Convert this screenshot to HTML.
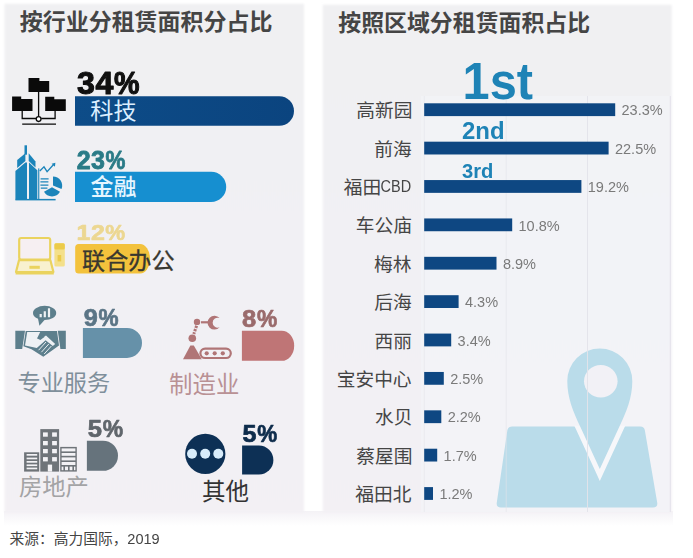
<!DOCTYPE html>
<html lang="zh"><head><meta charset="utf-8"><title>租赁面积占比</title>
<style>
html,body{margin:0;padding:0;background:#fff}
body{width:693px;height:558px;position:relative;overflow:hidden;font-family:"Liberation Sans",sans-serif}
svg{position:absolute;left:0;top:0;display:block}
svg text{font-family:"Liberation Sans","Noto Sans CJK SC",sans-serif}
.h{position:absolute;white-space:nowrap;line-height:1;color:transparent;font-family:"Liberation Sans","Noto Sans CJK SC",sans-serif}
</style></head><body>
<svg width="693" height="558" viewBox="0 0 693 558">
<defs><filter id="soft" x="-5%" y="-5%" width="110%" height="110%"><feGaussianBlur stdDeviation="0.8"/></filter>
</defs>
<defs><linearGradient id="fade" x1="0" x2="0" y1="0" y2="1"><stop offset="0" stop-color="#f4f2f6"/><stop offset="1" stop-color="#ffffff"/></linearGradient></defs>
<defs><linearGradient id="pg" x1="0" x2="0" y1="0" y2="1"><stop offset="0" stop-color="#f0f0f2"/><stop offset="0.45" stop-color="#f1f0f4"/><stop offset="1" stop-color="#f3f0f4"/></linearGradient></defs>
<rect x="4" y="511" width="669" height="15" fill="url(#fade)"/>
<rect x="4.5" y="3.8" width="299.5" height="508.7" fill="url(#pg)" filter="url(#soft)"/>
<rect x="322.8" y="4.8" width="349" height="507.5" fill="url(#pg)" filter="url(#soft)"/>
<rect x="421" y="96" width="249.5" height="416" fill="#f4f5f8" opacity=".6"/>
<text x="19.72" y="29.98" font-size="22.98" font-weight="700" fill="#454545" textLength="252.78" lengthAdjust="spacingAndGlyphs">按行业分租赁面积分占比</text>
<defs><linearGradient id="b1" x1="0" x2="1" y1="0" y2="0"><stop offset="0" stop-color="#0d4c88"/><stop offset="1" stop-color="#0b447f"/></linearGradient></defs>
<path d="M75.00 96.30H279.25A14.75 14.75 0 0 1 279.25 125.80H75.00Z" fill="url(#b1)"/>
<text x="90.35" y="119.32" font-size="23.08" fill="#dcefff" textLength="46.16" lengthAdjust="spacingAndGlyphs">科技</text>
<g fill="#0a0a0a" stroke="none">
<path d="M28.5 78.1H39.4V80.9H49.2V92.1H28.5Z"/>
<path d="M12.1 96.5H21.2V99H32.5V111H12.1Z"/>
<path d="M45.2 96.7H54.3V99.2H65.8V111H45.2Z"/>
</g>
<g fill="none" stroke="#0a0a0a" stroke-width="1.3">
<path d="M38.6 92V116.6M22.2 111V118.5H36M41.2 118.5H55.1V111M22.2 124.2H56"/>
<circle cx="38.6" cy="119.1" r="2.4" fill="#fff"/>
</g>
<path d="M75.00 171.80H211.10A15.10 15.10 0 0 1 211.10 202.00H75.00Z" fill="#168fd0"/>
<text x="90.40" y="194.51" font-size="23.02" font-weight="500" fill="#e6f6ff" textLength="46.04" lengthAdjust="spacingAndGlyphs">金融</text>
<g fill="#1b84ba">
<rect x="24.5" y="145.3" width="2.5" height="9.4"/>
<path d="M17.2 160L25.4 153.3V161L17.2 167.9Z"/>
<path d="M28.7 153.3L35.5 161.6V167.6L28.7 160.9Z"/>
<path d="M15.4 170.9L25.4 162.6H27V199.4H15.4Z"/>
<path d="M29 162.4L37.3 170.2V199.4H29Z"/>
<rect x="15.4" y="198.9" width="40.2" height="1.5"/>
<rect x="38.2" y="168.4" width="1.1" height="31"/>
<path d="M53.00 185.60L53.00 176.40A9.20 9.20 0 0 1 61.53 189.05Z"/>
<path d="M52.00 187.20L59.97 191.80A9.20 9.20 0 0 1 44.03 191.80Z"/>
<path d="M40.6 178.3H48.6V179.6H40.6ZM40.4 181.3H48.4V182.6H40.4ZM40.4 184.4H48.4V185.7H40.4ZM40.8 187.5H47.4V188.8H40.8Z"/>
</g>
<path d="M39.8 171L44 166.8L47.1 171.6L53.6 164.5" fill="none" stroke="#1b84ba" stroke-width="1.3"/>
<path d="M55.4 162.7L54.9 166.7L51.6 163.7Z" fill="#1b84ba"/>
<path d="M78.70 244.00H140.00A10.00 14.80 0 0 1 140.00 273.60H78.70Q75.20 273.60 75.20 270.10 V247.50 Q75.20 244.00 78.70 244.00Z" fill="#f3c23c"/>
<text x="82.12" y="269.43" font-size="23.13" fill="#38372f" stroke="#38372f" stroke-width="0.32" textLength="92.52" lengthAdjust="spacingAndGlyphs">联合办公</text>
<g fill="none" stroke="#ead35e" stroke-width="2.2" stroke-linejoin="round">
<rect x="19.2" y="238" width="31" height="21.6" rx="2" fill="#f6eff2"/>
<path d="M19 260.2H50.4L53.4 272H16Z" fill="#f8f1cf"/>
<path d="M15.6 273.2H53.8" stroke-width="2.6"/>
</g>
<rect x="29.4" y="265.8" width="10.4" height="3" fill="#ead35e"/>
<rect x="54.4" y="243.2" width="10.4" height="23.4" rx="1.5" fill="#f4e08a"/>
<rect x="54.4" y="243.2" width="10.4" height="6.4" rx="1.5" fill="#eccb4a"/>
<rect x="57.6" y="255" width="3.6" height="6.4" fill="#eccb4a"/>
<path d="M82.90 327.90H127.00A15.00 15.00 0 0 1 127.00 357.90H82.90Z" fill="#6691a9"/>
<text x="17.50" y="391.17" font-size="23.18" fill="#7f8f9b" textLength="92.72" lengthAdjust="spacingAndGlyphs">专业服务</text>
<g fill="#5d7f8c">
<ellipse cx="44.6" cy="312.9" rx="11.6" ry="7.1"/>
<path d="M37.8 317.6L39.4 325.8L45 319.4Z"/>
<path d="M15.3 330.7H25L22.2 349H15.3Z"/>
<path d="M57.8 330.7H65.8V349H60.4Z"/>
<path d="M25.7 330.9H57L59 345.4L43.3 356.7L31.5 349.3L23.4 346.3Z"/>
</g>
<path d="M27.2 332.1H40.2L37.4 337.7L40.2 339.2L46 335.4L55.2 344L52.8 346L45.6 340.3L36.8 348.1L25 345.4Z" fill="#eef1f4"/>
<path d="M36.8 338.3L40.9 335.4L44.7 336.8L40.4 340.1Z" fill="#5d7f8c"/>
<path d="M38.6 350.2L46 342M41.4 352.2L48.8 344M44.2 354L51.4 346" stroke="#e8eef1" stroke-width="1" fill="none"/>
<path d="M40.7 317.3V313.9M44.8 317.3V311.3M49 317.3V308.2" stroke="#eef2f4" stroke-width="2.2" fill="none"/>
<path d="M241.90 330.70H281.70A12.50 15.05 0 0 1 281.70 360.80H241.90Z" fill="#bf7576"/>
<text x="169.04" y="392.82" font-size="23.43" fill="#b99194" textLength="70.29" lengthAdjust="spacingAndGlyphs">制造业</text>
<g fill="#b07576">
<circle cx="197" cy="321.9" r="3.2"/>
<circle cx="192.3" cy="338.3" r="3.8"/>
<path d="M183 359.2L190.4 345.6H193.8L201.8 359.2Z"/>
<circle cx="206.7" cy="353.3" r="2.1"/><circle cx="214.7" cy="353.3" r="2.1"/><circle cx="222.8" cy="353.3" r="2.1"/>
</g>
<g fill="none" stroke="#b07576">
<path d="M201 322.3H208.6" stroke-width="2.2"/>
<path d="M196.6 325.8L193.8 334" stroke-width="3" stroke-dasharray="2.4 1"/>
<path d="M219.6 318.1A6.9 6.9 0 1 0 219.6 327.3A5 5 0 1 1 219.6 318.1Z" fill="#b07576" stroke="none"/>
<rect x="200.4" y="348.6" width="30.4" height="9.4" rx="4.7" stroke-width="2.2"/>
</g>
<path d="M86.90 440.70H102.95A15.05 15.05 0 0 1 102.95 470.80H86.90Z" fill="#66737c"/>
<text x="19.06" y="495.12" font-size="23.27" fill="#a3a3a5" textLength="69.81" lengthAdjust="spacingAndGlyphs">房地产</text>
<g fill="#6f7479">
<rect x="40.3" y="429.1" width="18.8" height="42.5"/>
<rect x="24.1" y="452.3" width="15.1" height="19.3"/>
<rect x="60.2" y="446.9" width="16.6" height="24.7"/>
</g>
<rect x="61.6" y="448.4" width="13.8" height="21.8" fill="#f3f2f5"/>
<g fill="#f3f2f5"><rect x="43.0" y="432.4" width="4.8" height="4.3"/><rect x="43.0" y="441.0" width="4.8" height="4.3"/><rect x="43.0" y="449.0" width="4.8" height="4.3"/><rect x="43.0" y="457.1" width="4.8" height="4.3"/><rect x="52.1" y="432.4" width="4.8" height="4.3"/><rect x="52.1" y="441.0" width="4.8" height="4.3"/><rect x="52.1" y="449.0" width="4.8" height="4.3"/><rect x="52.1" y="457.1" width="4.8" height="4.3"/><rect x="26.6" y="454.0" width="10.6" height="1.7"/><rect x="26.6" y="457.6" width="10.6" height="1.7"/><rect x="26.6" y="461.0" width="10.6" height="1.7"/><rect x="26.6" y="464.4" width="10.6" height="1.7"/><rect x="26.6" y="467.6" width="10.6" height="1.7"/><rect x="47.8" y="464.6" width="4.3" height="7"/></g>
<g fill="#6f7479"><rect x="61" y="451.4" width="15" height="1.6"/><rect x="61" y="455.8" width="15" height="1.6"/><rect x="61" y="460.4" width="15" height="1.6"/><rect x="61" y="465.0" width="15" height="1.6"/><rect x="63.4" y="466" width="1.6" height="5"/><rect x="68" y="466" width="1.6" height="5"/><rect x="72.4" y="466" width="1.6" height="5"/></g>
<path d="M242.10 445.60H258.90A14.50 14.50 0 0 1 258.90 474.60H242.10Z" fill="#0d3055"/>
<text x="201.94" y="500.15" font-size="23.51" fill="#333" textLength="47.02" lengthAdjust="spacingAndGlyphs">其他</text>
<circle cx="205.3" cy="453.9" r="20.1" fill="#0d3055"/>
<circle cx="192.0" cy="453.8" r="5" fill="#d8ecfa"/>
<circle cx="205.2" cy="453.8" r="5" fill="#d8ecfa"/>
<circle cx="218.3" cy="453.8" r="5" fill="#d8ecfa"/>
<text x="9.50" y="544.33" font-size="14.75" fill="#444" textLength="118.00" lengthAdjust="spacingAndGlyphs">来源：高力国际，</text>
<text x="338.32" y="31.45" font-size="22.89" font-weight="700" fill="#454545" textLength="251.79" lengthAdjust="spacingAndGlyphs">按照区域分租赁面积占比</text>
<g>
<clipPath id="basec"><rect x="490" y="425.8" width="175" height="90"/></clipPath>
<path d="M512 426.4H640.4Q644 426.4 644.8 430L657.2 502.4Q658 507.4 653 507.4H501Q496 507.4 496.8 502.4L507.4 430Q508.2 426.4 512 426.4Z" fill="#badcea"/>
<path d="M599.8 469L580.4 427C573 411 567.3 398 567.3 381A32.5 32.5 0 0 1 632.3 381C632.3 398 626.6 411 619.2 427Z" fill="#f6f7fa" stroke="#f6f7fa" stroke-width="10" stroke-miterlimit="10" clip-path="url(#basec)"/>
<path d="M599.8 469L580.4 427C573 411 567.3 398 567.3 381A32.5 32.5 0 0 1 632.3 381C632.3 398 626.6 411 619.2 427Z" fill="#badcea"/>
<ellipse cx="600.8" cy="381.3" rx="16.8" ry="16.2" fill="#f2f1f6"/>
</g>
<rect x="423.8" y="96" width="1" height="416" fill="#e3e3ea" opacity="0.50"/>
<rect x="505.7" y="96" width="1" height="416" fill="#e3e3ea" opacity="0.60"/>
<rect x="587.0" y="96" width="1" height="416" fill="#e3e3ea" opacity="0.95"/>
<rect x="669.8" y="96" width="1" height="416" fill="#e4e2ea"/>
<rect x="424.2" y="103.30" width="191.0" height="12.8" fill="#0e4782"/>
<text x="356.30" y="117.30" font-size="18.70" fill="#454545" textLength="56.10" lengthAdjust="spacingAndGlyphs">高新园</text>
<rect x="424.2" y="141.68" width="184.4" height="12.8" fill="#0e4782"/>
<text x="374.19" y="155.68" font-size="18.70" fill="#454545" textLength="37.40" lengthAdjust="spacingAndGlyphs">前海</text>
<rect x="424.2" y="180.06" width="157.2" height="12.8" fill="#0e4782"/>
<text x="343.84" y="194.06" font-size="18.70" fill="#454545" textLength="37.40" lengthAdjust="spacingAndGlyphs">福田</text>
<rect x="424.2" y="218.44" width="88.0" height="12.8" fill="#0e4782"/>
<text x="355.81" y="232.44" font-size="18.70" fill="#454545" textLength="56.10" lengthAdjust="spacingAndGlyphs">车公庙</text>
<rect x="424.2" y="256.82" width="72.3" height="12.8" fill="#0e4782"/>
<text x="374.04" y="270.82" font-size="18.70" fill="#454545" textLength="37.40" lengthAdjust="spacingAndGlyphs">梅林</text>
<rect x="424.2" y="295.20" width="34.4" height="12.8" fill="#0e4782"/>
<text x="374.19" y="309.20" font-size="18.70" fill="#454545" textLength="37.40" lengthAdjust="spacingAndGlyphs">后海</text>
<rect x="424.2" y="333.58" width="27.0" height="12.8" fill="#0e4782"/>
<text x="374.49" y="347.58" font-size="18.70" fill="#454545" textLength="37.40" lengthAdjust="spacingAndGlyphs">西丽</text>
<rect x="424.2" y="371.96" width="19.6" height="12.8" fill="#0e4782"/>
<text x="336.74" y="385.96" font-size="18.70" fill="#454545" textLength="74.80" lengthAdjust="spacingAndGlyphs">宝安中心</text>
<rect x="424.2" y="410.34" width="17.1" height="12.8" fill="#0e4782"/>
<text x="375.05" y="424.34" font-size="18.70" fill="#454545" textLength="37.40" lengthAdjust="spacingAndGlyphs">水贝</text>
<rect x="424.2" y="448.72" width="13.0" height="12.8" fill="#0e4782"/>
<text x="356.30" y="462.72" font-size="18.70" fill="#454545" textLength="56.10" lengthAdjust="spacingAndGlyphs">蔡屋围</text>
<rect x="424.2" y="487.10" width="8.8" height="12.8" fill="#0e4782"/>
<text x="355.29" y="501.10" font-size="18.70" fill="#454545" textLength="56.10" lengthAdjust="spacingAndGlyphs">福田北</text>
<g opacity=".999">
<text x="77.01" y="94.25" font-size="31.11" fill="#101010" font-weight="700" textLength="17.87" lengthAdjust="spacingAndGlyphs" stroke="#101010" stroke-width="1.10" stroke-linejoin="round">3</text>
<text x="95.50" y="94.25" font-size="31.11" fill="#101010" font-weight="700" textLength="17.87" lengthAdjust="spacingAndGlyphs" stroke="#101010" stroke-width="1.10" stroke-linejoin="round">4</text>
<text x="113.99" y="94.25" font-size="31.11" fill="#101010" font-weight="700" textLength="25.51" lengthAdjust="spacingAndGlyphs" stroke="#101010" stroke-width="1.10" stroke-linejoin="round">%</text>
<text x="76.71" y="169.40" font-size="25.44" fill="#2a7b87" font-weight="700" textLength="13.92" lengthAdjust="spacingAndGlyphs" stroke="#2a7b87" stroke-width="0.80" stroke-linejoin="round">2</text>
<text x="91.12" y="169.40" font-size="25.44" fill="#2a7b87" font-weight="700" textLength="13.92" lengthAdjust="spacingAndGlyphs" stroke="#2a7b87" stroke-width="0.80" stroke-linejoin="round">3</text>
<text x="105.53" y="169.40" font-size="25.44" fill="#2a7b87" font-weight="700" textLength="19.88" lengthAdjust="spacingAndGlyphs" stroke="#2a7b87" stroke-width="0.80" stroke-linejoin="round">%</text>
<text x="76.60" y="240.25" font-size="22.67" fill="#ecd791" font-weight="700" textLength="13.90" lengthAdjust="spacingAndGlyphs" stroke="#ecd791" stroke-width="0.70" stroke-linejoin="round">1</text>
<text x="90.98" y="240.25" font-size="22.67" fill="#ecd791" font-weight="700" textLength="13.90" lengthAdjust="spacingAndGlyphs" stroke="#ecd791" stroke-width="0.70" stroke-linejoin="round">2</text>
<text x="105.37" y="240.25" font-size="22.67" fill="#ecd791" font-weight="700" textLength="19.85" lengthAdjust="spacingAndGlyphs" stroke="#ecd791" stroke-width="0.70" stroke-linejoin="round">%</text>
<text x="83.68" y="325.95" font-size="24.27" fill="#5b7586" font-weight="700" textLength="14.06" lengthAdjust="spacingAndGlyphs" stroke="#5b7586" stroke-width="0.70" stroke-linejoin="round">9</text>
<text x="98.47" y="325.95" font-size="24.27" fill="#5b7586" font-weight="700" textLength="20.07" lengthAdjust="spacingAndGlyphs" stroke="#5b7586" stroke-width="0.70" stroke-linejoin="round">%</text>
<text x="242.04" y="326.95" font-size="24.71" fill="#9a6b6c" font-weight="700" textLength="14.19" lengthAdjust="spacingAndGlyphs" stroke="#9a6b6c" stroke-width="0.70" stroke-linejoin="round">8</text>
<text x="256.98" y="326.95" font-size="24.71" fill="#9a6b6c" font-weight="700" textLength="20.27" lengthAdjust="spacingAndGlyphs" stroke="#9a6b6c" stroke-width="0.70" stroke-linejoin="round">%</text>
<text x="87.77" y="437.25" font-size="24.27" fill="#60666c" font-weight="700" textLength="14.26" lengthAdjust="spacingAndGlyphs" stroke="#60666c" stroke-width="0.70" stroke-linejoin="round">5</text>
<text x="102.78" y="437.25" font-size="24.27" fill="#60666c" font-weight="700" textLength="20.37" lengthAdjust="spacingAndGlyphs" stroke="#60666c" stroke-width="0.70" stroke-linejoin="round">%</text>
<text x="242.59" y="442.05" font-size="23.69" fill="#0e2c4b" font-weight="700" textLength="13.97" lengthAdjust="spacingAndGlyphs" stroke="#0e2c4b" stroke-width="0.70" stroke-linejoin="round">5</text>
<text x="257.29" y="442.05" font-size="23.69" fill="#0e2c4b" font-weight="700" textLength="19.95" lengthAdjust="spacingAndGlyphs" stroke="#0e2c4b" stroke-width="0.70" stroke-linejoin="round">%</text>
<text x="621.55" y="115.40" font-size="15.20" fill="#7a7a7a" textLength="41.16" lengthAdjust="spacingAndGlyphs">23.3%</text>
<text x="614.96" y="153.78" font-size="15.20" fill="#7a7a7a" textLength="41.16" lengthAdjust="spacingAndGlyphs">22.5%</text>
<text x="587.77" y="192.16" font-size="15.20" fill="#7a7a7a" textLength="41.16" lengthAdjust="spacingAndGlyphs">19.2%</text>
<text x="411.20" y="191.86" font-size="15.60" fill="#454545" textLength="30.60" lengthAdjust="spacingAndGlyphs" text-anchor="end">CBD</text>
<text x="518.55" y="230.54" font-size="15.20" fill="#7a7a7a" textLength="41.16" lengthAdjust="spacingAndGlyphs">10.8%</text>
<text x="502.90" y="268.92" font-size="15.20" fill="#7a7a7a" textLength="33.09" lengthAdjust="spacingAndGlyphs">8.9%</text>
<text x="464.99" y="307.30" font-size="15.20" fill="#7a7a7a" textLength="33.09" lengthAdjust="spacingAndGlyphs">4.3%</text>
<text x="457.58" y="345.68" font-size="15.20" fill="#7a7a7a" textLength="33.09" lengthAdjust="spacingAndGlyphs">3.4%</text>
<text x="450.16" y="384.06" font-size="15.20" fill="#7a7a7a" textLength="33.09" lengthAdjust="spacingAndGlyphs">2.5%</text>
<text x="447.69" y="422.44" font-size="15.20" fill="#7a7a7a" textLength="33.09" lengthAdjust="spacingAndGlyphs">2.2%</text>
<text x="443.57" y="460.82" font-size="15.20" fill="#7a7a7a" textLength="33.09" lengthAdjust="spacingAndGlyphs">1.7%</text>
<text x="439.45" y="499.20" font-size="15.20" fill="#7a7a7a" textLength="33.09" lengthAdjust="spacingAndGlyphs">1.2%</text>
<text x="462.60" y="99.00" font-size="52.30" fill="#1e83b6" font-weight="700" textLength="70.40" lengthAdjust="spacingAndGlyphs">1st</text>
<text x="462.00" y="139.20" font-size="24.50" fill="#1e83b6" font-weight="700" textLength="42.60" lengthAdjust="spacingAndGlyphs">2nd</text>
<text x="462.00" y="177.70" font-size="21.00" fill="#1e83b6" font-weight="700" textLength="31.40" lengthAdjust="spacingAndGlyphs">3rd</text>
<text x="127.30" y="543.93" font-size="15.00" fill="#444" textLength="32.40" lengthAdjust="spacingAndGlyphs">2019</text>
</g>
</svg>
<span class="h" style="left:19.7px;top:9.8px;font-size:23.0px">按行业分租赁面积分占比</span>
<span class="h" style="left:90.4px;top:99.0px;font-size:23.1px">科技</span>
<span class="h" style="left:90.4px;top:174.3px;font-size:23.0px">金融</span>
<span class="h" style="left:82.1px;top:249.1px;font-size:23.1px">联合办公</span>
<span class="h" style="left:17.5px;top:370.8px;font-size:23.2px">专业服务</span>
<span class="h" style="left:169.0px;top:372.2px;font-size:23.4px">制造业</span>
<span class="h" style="left:19.1px;top:474.6px;font-size:23.3px">房地产</span>
<span class="h" style="left:201.9px;top:479.5px;font-size:23.5px">其他</span>
<span class="h" style="left:9.5px;top:531.3px;font-size:14.7px">来源：高力国际，</span>
<span class="h" style="left:338.3px;top:11.3px;font-size:22.9px">按照区域分租赁面积占比</span>
<span class="h" style="left:356.3px;top:100.8px;font-size:18.7px">高新园</span>
<span class="h" style="left:374.2px;top:139.2px;font-size:18.7px">前海</span>
<span class="h" style="left:343.8px;top:177.6px;font-size:18.7px">福田</span>
<span class="h" style="left:355.8px;top:216.0px;font-size:18.7px">车公庙</span>
<span class="h" style="left:374.0px;top:254.4px;font-size:18.7px">梅林</span>
<span class="h" style="left:374.2px;top:292.7px;font-size:18.7px">后海</span>
<span class="h" style="left:374.5px;top:331.1px;font-size:18.7px">西丽</span>
<span class="h" style="left:336.7px;top:369.5px;font-size:18.7px">宝安中心</span>
<span class="h" style="left:375.1px;top:407.9px;font-size:18.7px">水贝</span>
<span class="h" style="left:356.3px;top:446.3px;font-size:18.7px">蔡屋围</span>
<span class="h" style="left:355.3px;top:484.6px;font-size:18.7px">福田北</span>
</body></html>
